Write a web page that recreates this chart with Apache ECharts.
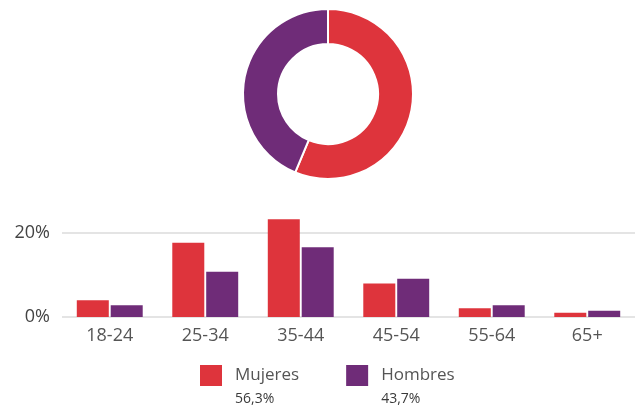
<!DOCTYPE html>
<html>
<head>
<meta charset="utf-8">
<script src="https://cdn.jsdelivr.net/npm/echarts@6/dist/echarts.min.js"></script>
<style>
  html, body { margin: 0; padding: 0; background: #fff; }
  #chart { width: 635px; height: 411px; }
</style>
</head>
<body>
<div id="chart"></div>
<script>
const ageGroups = ['18-24', '25-34', '35-44', '45-54', '55-64', '65+'];
const mujeres = [4.0, 17.7, 23.3, 8.0, 2.1, 1.0];
const hombres = [2.8, 10.8, 16.6, 9.1, 2.8, 1.5];
const genders = ['Mujeres', 'Hombres'];
const genderShare = [56.3, 43.7];
const genderLabels = ['56,3%', '43,7%'];

const red = '#de343c';
const purple = '#6f2c78';
const font = '"Open Sans", sans-serif';

const chart = echarts.init(document.getElementById('chart'));

const option = {
  animation: false,
  color: [red, purple],
  grid: { left: 62, right: -14, top: 233, bottom: 94 },
  legend: {
    left: 200,
    top: 365,
    padding: 0,
    itemWidth: 22,
    itemHeight: 21,
    itemGap: 47,
    icon: 'rect',
    data: genders,
    formatter: (name) => {
      const i = genders.indexOf(name);
      return '{n|' + name + '}\n{p|' + genderLabels[i] + '}';
    },
    textStyle: {
      padding: [24, 0, 0, 8],
      rich: {
        n: { fontFamily: font, fontSize: 17, color: '#555', lineHeight: 24 },
        p: { fontFamily: font, fontSize: 14, color: '#3a3a3a', lineHeight: 24 },
      },
    },
  },
  xAxis: {
    type: 'category',
    data: ageGroups,
    axisLine: { show: false },
    axisTick: { show: false },
    axisLabel: { color: '#555', fontFamily: font, fontSize: 18, margin: 10 },
  },
  yAxis: {
    type: 'value',
    min: 0,
    max: 20,
    interval: 20,
    axisLabel: {
      color: '#444',
      fontFamily: font,
      fontSize: 18,
      margin: 12,
      formatter: '{value}%',
    },
    splitLine: { lineStyle: { color: '#e4e4e4', width: 2 } },
  },
  series: [
    {
      name: 'Mujeres',
      type: 'bar',
      data: mujeres,
      barWidth: 32,
      barGap: '6%',
      clip: false,
    },
    {
      name: 'Hombres',
      type: 'bar',
      data: hombres,
      barWidth: 32,
      barGap: '6%',
      clip: false,
    },
    {
      name: 'Género',
      type: 'pie',
      center: [328, 94],
      radius: [50, 85],
      startAngle: 90,
      label: { show: false },
      labelLine: { show: false },
      itemStyle: { borderColor: '#fff', borderWidth: 2 },
      data: genders.map((g, i) => ({ name: g, value: genderShare[i] })),
    },
  ],
};

chart.setOption(option);
</script>
</body>
</html>
